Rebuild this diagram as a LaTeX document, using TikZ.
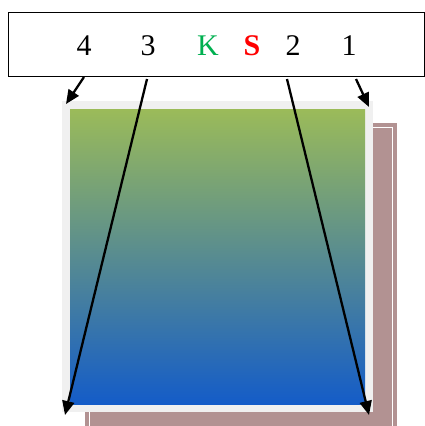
\documentclass[tikz,border=0pt]{standalone}
\usepackage{fontspec}
\setmainfont{Liberation Serif}
\usetikzlibrary{arrows.meta}
\definecolor{kgreen}{RGB}{0,176,80}
\definecolor{sred}{RGB}{255,0,0}
\definecolor{topgreen}{RGB}{155,187,89}
\definecolor{midgray}{RGB}{100,148,142}
\definecolor{botblue}{RGB}{20,92,200}
\definecolor{shadowrose}{RGB}{178,146,146}
\definecolor{framegray}{RGB}{240,240,240}
\tikzset{
  lbl/.style={anchor=base, inner sep=0pt, font=\fontsize{30}{30}\selectfont},
  arr/.style={line width=2.3pt, -{Triangle[length=14pt,width=12pt]}},
}
\begin{document}
\begin{tikzpicture}[x=1pt,y=-1pt]
\useasboundingbox (0,0) rectangle (425,426);
% shadow
\begin{scope}
\clip (0,0) rectangle (425,426);
\fill[shadowrose] (85,123) rectangle (397,430);
\draw[white, line width=0.8pt] (89,127) rectangle (392,440);
\end{scope}
% frame
\fill[framegray] (62,101) rectangle (373,412);
\shade[top color=topgreen, middle color=midgray, bottom color=botblue] (70,109) rectangle (365,404);
% top box
\draw[line width=1pt] (8,12) rectangle (424.5,76);
\node[lbl] (n4) at (84,55) {4};
\node[lbl] (n3) at (148,55) {3};
\node[lbl, text=kgreen] (nk) at (208,55) {K};
\node[lbl, text=sred, font=\fontsize{30}{30}\selectfont\bfseries] (ns) at (252,55) {S};
\node[lbl] (n2) at (293,55) {2};
\node[lbl] (n1) at (349,55) {1};
% arrow endpoints
\coordinate (s4) at (84,77);
\coordinate (s3) at (147,79);
\coordinate (s2) at (287,79);
\coordinate (s1) at (356,79);
\coordinate (t4) at (66,104);
\coordinate (t3) at (65,415);
\coordinate (t2) at (369,415);
\coordinate (t1) at (369,107);
\draw[arr] (s4) -- (t4);
\draw[arr] (s3) -- (t3);
\draw[arr] (s2) -- (t2);
\draw[arr] (s1) -- (t1);
\end{tikzpicture}
\end{document}
